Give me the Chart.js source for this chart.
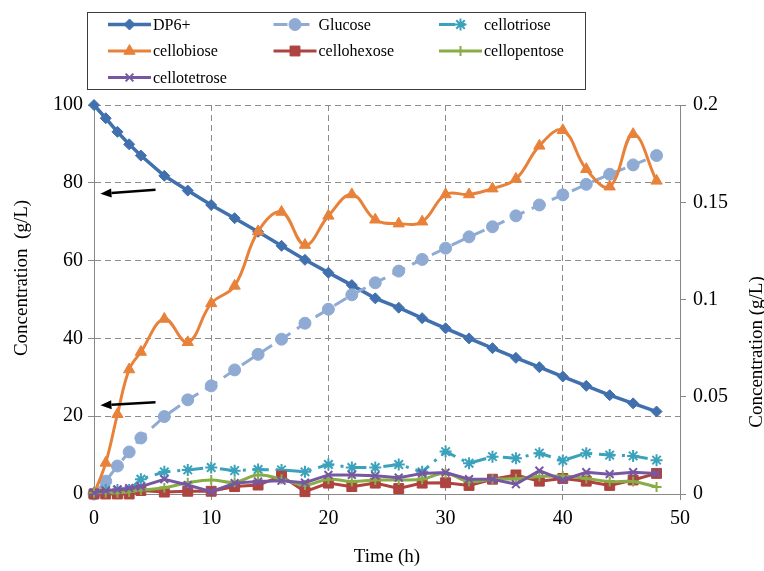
<!DOCTYPE html>
<html>
<head>
<meta charset="utf-8">
<script src="https://cdn.jsdelivr.net/npm/chart.js@4.4.1/dist/chart.umd.min.js"></script>
<style>
  html, body { margin: 0; padding: 0; background: #fff; }
  #wrap { width: 764px; height: 571px; }
</style>
</head>
<body>
<div id="wrap"><canvas id="kinetics" width="764" height="571"></canvas></div>
<script>
// sampling times (h)
const hours = [0, 1, 2, 3, 4, 6, 8, 10, 12, 14, 16, 18, 20, 22, 24, 26, 28, 30, 32, 34, 36, 38, 40, 42, 44, 46, 48];

// left axis, g/L
const dp6 = [100, 96.6, 93.1, 89.9, 87.0, 81.8, 78.0, 74.3, 70.9, 67.4, 63.8, 60.2, 56.9, 53.7, 50.3, 47.9, 45.2, 42.6, 40.0, 37.5, 35.0, 32.6, 30.2, 27.8, 25.4, 23.3, 21.2];
const glucose = [0, 3.3, 7.2, 10.8, 14.4, 19.9, 24.2, 27.8, 31.9, 35.9, 39.8, 43.9, 47.5, 51.2, 54.3, 57.3, 60.3, 63.2, 66.1, 68.7, 71.5, 74.3, 76.9, 79.6, 82.2, 84.6, 87.0];

// right axis, g/L
const cellobiose = [0, 0.016, 0.041, 0.064, 0.073, 0.090, 0.078, 0.098, 0.107, 0.135, 0.145, 0.128, 0.143, 0.154, 0.141, 0.139, 0.140, 0.154, 0.154, 0.157, 0.162, 0.179, 0.187, 0.167, 0.158, 0.185, 0.161];
const cellotriose = [0.0006, 0.002, 0.002, 0.002, 0.0076, 0.0114, 0.0124, 0.0136, 0.012, 0.0126, 0.0124, 0.0114, 0.0152, 0.0136, 0.0136, 0.0152, 0.0114, 0.0218, 0.0158, 0.0192, 0.0184, 0.021, 0.0172, 0.021, 0.020, 0.0196, 0.0174];
const cellotetrose = [0.0006, 0.0016, 0.0024, 0.003, 0.0038, 0.0076, 0.0046, 0.0012, 0.0056, 0.0064, 0.0068, 0.0058, 0.0098, 0.0098, 0.0094, 0.0084, 0.0106, 0.011, 0.0076, 0.0076, 0.005, 0.012, 0.0072, 0.0112, 0.0102, 0.0112, 0.0106];
const cellopentose = [0.0006, 0.0006, 0.0006, 0.001, 0.002, 0.0032, 0.0058, 0.0072, 0.006, 0.0098, 0.0076, 0.0046, 0.0076, 0.0064, 0.0072, 0.0072, 0.0076, 0.0106, 0.0064, 0.0076, 0.0078, 0.009, 0.0092, 0.008, 0.0064, 0.0064, 0.0036];
const cellohexose = [0, 0, 0, 0, 0.0018, 0.001, 0.0014, 0.0014, 0.0038, 0.0046, 0.0092, 0.0012, 0.0056, 0.0038, 0.0056, 0.0028, 0.0056, 0.0058, 0.0044, 0.0076, 0.0098, 0.0066, 0.008, 0.0066, 0.0044, 0.0072, 0.0106];

const rightTickLabels = ["0", "0.05", "0.1", "0.15", "0.2"];

// annotation arrows on the left axis (time h, g/L)
const arrowTails = [[5.25, 78.2], [5.25, 23.6]];
const arrowTips = [[0.55, 77.2], [0.55, 22.8]];

const SERIF = "'Liberation Serif', 'Times New Roman', serif";
const axisGray = "#878787";
const gridGray = "#8c8c8c";

Chart.defaults.font.family = SERIF;
Chart.defaults.color = "#000";

const toPoints = (values) => values.map((v, i) => ({ x: hours[i], y: v }));

function series(label, values, axis, color, extra) {
  return Object.assign({
    label,
    data: toPoints(values),
    yAxisID: axis,
    clip: false,
    fill: false,
    tension: 0,
    borderColor: color,
    backgroundColor: color,
    pointBackgroundColor: color,
    pointBorderColor: color,
    borderWidth: 3,
    pointBorderWidth: 1,
  }, extra);
}

const datasets = [
  series("DP6+", dp6, "y", "#4070AD", { pointStyle: "rectRot", pointRadius: 5.5, borderWidth: 3.5, order: 7 }),
  series("Glucose", glucose, "y", "#8FAAD3", { pointStyle: "circle", pointRadius: 6, borderDash: [14, 8], order: 6 }),
  series("cellotriose", cellotriose, "y1", "#3BA2BC", { pointStyle: "star", pointRadius: 6, pointBorderWidth: 2, borderDash: [16, 7, 3, 7], order: 5 }),
  series("cellobiose", cellobiose, "y1", "#E8823A", { pointStyle: "triangle", pointRadius: 6.5, tension: 0.4, order: 4 }),
  series("cellohexose", cellohexose, "y1", "#AE433F", { pointStyle: "rect", pointRadius: 7, order: 3 }),
  series("cellopentose", cellopentose, "y1", "#88AD45", { pointStyle: "cross", pointRadius: 5, pointBorderWidth: 2, tension: 0.4, order: 2 }),
  series("cellotetrose", cellotetrose, "y1", "#7658A2", { pointStyle: "crossRot", pointRadius: 5.5, pointBorderWidth: 2, order: 1 }),
];

// boxed three-column key above the plot
const legendBox = { left: 87, top: 12, right: 585, bottom: 89 };
const keyBox = {
  id: "keyBox",
  afterDraw(chart) {
    const { ctx } = chart;
    ctx.save();
    ctx.strokeStyle = "#3c3c3c";
    ctx.lineWidth = 1;
    ctx.strokeRect(legendBox.left + 0.5, legendBox.top + 0.5,
      legendBox.right - legendBox.left, legendBox.bottom - legendBox.top);
    const colW = 165.5, rowH = 26.5;
    chart.data.datasets.forEach((ds, i) => {
      const x0 = legendBox.left + 21 + (i % 3) * colW;
      const y = legendBox.top + 12.5 + Math.floor(i / 3) * rowH;
      ctx.save();
      ctx.strokeStyle = ds.borderColor;
      ctx.lineWidth = ds.borderWidth;
      ctx.setLineDash(ds.borderDash || []);
      ctx.beginPath();
      ctx.moveTo(x0, y);
      ctx.lineTo(x0 + (ds.borderDash && ds.borderDash.length > 2 ? 33 : 43), y);
      ctx.stroke();
      ctx.setLineDash([]);
      ctx.fillStyle = ds.pointBackgroundColor;
      ctx.strokeStyle = ds.pointBorderColor;
      ctx.lineWidth = ds.pointBorderWidth;
      Chart.helpers.drawPoint(ctx, {
        pointStyle: ds.pointStyle, radius: ds.pointRadius,
        borderWidth: ds.pointBorderWidth, rotation: 0,
      }, x0 + 21.5, y);
      ctx.restore();
      ctx.fillStyle = "#000";
      ctx.font = "16px " + SERIF;
      ctx.textAlign = "left";
      ctx.textBaseline = "middle";
      ctx.fillText(ds.label, x0 + 45, y + 1);
    });
    ctx.restore();
  },
};

// arrows and vertical axis titles
const extras = {
  id: "extras",
  afterDatasetsDraw(chart) {
    const { ctx, scales: { x, y } } = chart;
    ctx.save();
    ctx.strokeStyle = "#000";
    ctx.fillStyle = "#000";
    ctx.lineWidth = 2.5;
    arrowTails.forEach((tail, i) => {
      const tip = arrowTips[i];
      const x1 = x.getPixelForValue(tail[0]), y1 = y.getPixelForValue(tail[1]);
      const x2 = x.getPixelForValue(tip[0]), y2 = y.getPixelForValue(tip[1]);
      const ang = Math.atan2(y2 - y1, x2 - x1);
      const head = 11, half = 4.5;
      const bx = x2 - head * Math.cos(ang), by = y2 - head * Math.sin(ang);
      ctx.beginPath();
      ctx.moveTo(x1, y1);
      ctx.lineTo(bx, by);
      ctx.stroke();
      ctx.beginPath();
      ctx.moveTo(x2, y2);
      ctx.lineTo(bx - half * Math.sin(ang), by + half * Math.cos(ang));
      ctx.lineTo(bx + half * Math.sin(ang), by - half * Math.cos(ang));
      ctx.closePath();
      ctx.fill();
    });
    ctx.restore();
  },
  afterDraw(chart) {
    const { ctx } = chart;
    ctx.save();
    ctx.fillStyle = "#000";
    ctx.font = "19px " + SERIF;
    ctx.textAlign = "center";
    ctx.textBaseline = "middle";
    ctx.translate(22, 278);
    ctx.rotate(-Math.PI / 2);
    ctx.fillText("Concentration  (g/L)", 0, 0);
    ctx.restore();
    ctx.save();
    ctx.fillStyle = "#000";
    ctx.font = "19px " + SERIF;
    ctx.textAlign = "center";
    ctx.textBaseline = "middle";
    ctx.translate(757, 352);
    ctx.rotate(-Math.PI / 2);
    ctx.fillText("Concentration (g/L)", 0, 0);
    ctx.restore();
  },
};

new Chart(document.getElementById("kinetics"), {
  type: "line",
  data: { datasets },
  options: {
    responsive: false,
    animation: false,
    layout: { padding: { top: 105, left: 0, right: 0, bottom: 0 } },
    plugins: { legend: { display: false }, tooltip: { enabled: false } },
    scales: {
      x: {
        type: "linear",
        min: 0,
        max: 50,
        ticks: { stepSize: 10, font: { size: 20 }, padding: 7, color: "#000" },
        grid: { color: gridGray, tickLength: 6, tickColor: axisGray },
        border: { color: axisGray, dash: [6, 4] },
        title: { display: true, text: "Time (h)", font: { size: 19 }, padding: { top: 0, bottom: 3 } },
        afterFit(scale) { scale.height = 77; },
      },
      y: {
        position: "left",
        min: 0,
        max: 100,
        ticks: { stepSize: 20, font: { size: 20 }, padding: 5, color: "#000" },
        grid: { color: gridGray, tickLength: 6, tickColor: axisGray },
        border: { color: axisGray, dash: [6, 4] },
        afterFit(scale) { scale.width = 94; },
      },
      y1: {
        position: "right",
        min: 0,
        max: 0.2,
        ticks: {
          stepSize: 0.05, font: { size: 20 }, padding: 7, color: "#000",
          callback: (value, index) => rightTickLabels[index],
        },
        grid: { drawOnChartArea: false, color: axisGray, tickLength: 6 },
        border: { color: axisGray },
        afterFit(scale) { scale.width = 84; },
      },
    },
  },
  plugins: [keyBox, extras],
});
</script>
</body>
</html>
